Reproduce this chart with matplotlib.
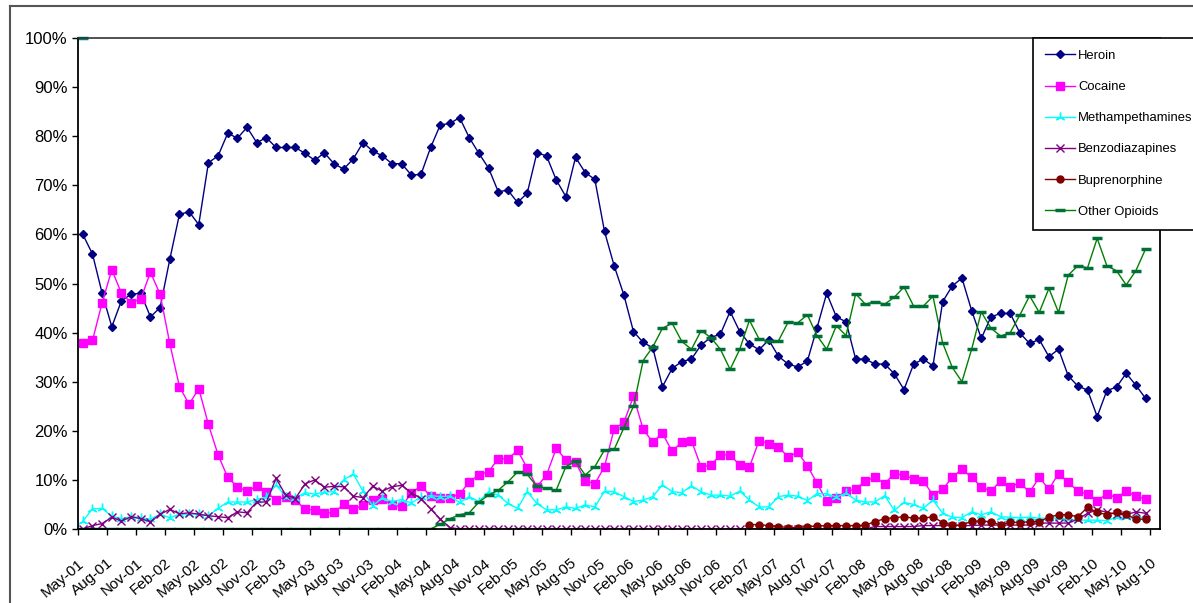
import matplotlib
matplotlib.use("Agg")
import matplotlib.pyplot as plt
import numpy as np
from matplotlib.lines import Line2D

plt.rcParams['font.family'] = ['Liberation Sans', 'DejaVu Sans']

# monthly share (%), May-01 .. Jul-10
heroin = [
    60.0, 56.0, 48.0, 41.2, 46.5, 47.8, 48.0, 43.2, 45.1, 54.9,
    64.1, 64.6, 62.0, 74.6, 76.0, 80.6, 79.6, 81.8, 78.7, 79.7,
    77.7, 77.7, 77.7, 76.5, 75.1, 76.6, 74.4, 73.3, 75.4, 78.7,
    77.0, 76.0, 74.4, 74.4, 72.1, 72.2, 77.7, 82.3, 82.6, 83.8,
    79.7, 76.5, 73.5, 68.7, 69.0, 66.5, 68.4, 76.6, 76.0, 71.1,
    67.7, 75.7, 72.6, 71.2, 60.6, 53.6, 47.7, 40.2, 38.0, 36.9,
    29.0, 32.7, 34.1, 34.6, 37.5, 39.0, 39.7, 44.3, 40.2, 37.7,
    36.5, 38.5, 35.2, 33.6, 33.0, 34.2, 41.0, 48.0, 43.2, 42.2,
    34.6, 34.6, 33.6, 33.6, 31.6, 28.4, 33.6, 34.6, 33.2, 46.3,
    49.5, 51.1, 44.5, 38.8, 43.2, 43.9, 43.9, 39.9, 37.8, 38.6,
    35.1, 36.6, 31.2, 29.1, 28.3, 22.9, 28.2, 28.9, 31.7, 29.3, 26.6,
]
cocaine = [
    37.8, 38.4, 46.1, 52.8, 48.0, 46.1, 46.9, 52.3, 47.8, 37.8,
    29.0, 25.4, 28.6, 21.3, 15.1, 10.5, 8.6, 7.7, 8.7, 7.5,
    5.9, 6.5, 5.9, 4.0, 3.9, 3.2, 3.4, 5.0, 4.0, 4.8,
    5.9, 6.2, 4.8, 4.6, 7.3, 8.8, 6.7, 6.4, 6.4, 7.1,
    9.6, 11.0, 11.7, 14.3, 14.3, 16.0, 12.4, 8.6, 11.0, 16.4,
    14.1, 13.6, 9.8, 9.2, 12.7, 20.4, 21.7, 27.0, 20.3, 17.7,
    19.5, 15.8, 17.7, 18.0, 12.6, 13.0, 15.1, 15.1, 13.0, 12.6,
    18.0, 17.4, 16.7, 14.7, 15.6, 12.9, 9.3, 5.7, 6.4, 7.7,
    8.1, 9.8, 10.5, 9.2, 11.3, 10.9, 10.2, 9.8, 6.9, 8.1,
    10.5, 12.2, 10.5, 8.6, 7.7, 9.8, 8.6, 9.4, 7.5, 10.5,
    8.1, 11.3, 9.5, 7.7, 7.1, 5.8, 7.1, 6.4, 7.7, 6.7, 6.1,
]
methamphetamines = [
    1.6, 4.1, 4.2, 2.6, 2.1, 2.5, 2.3, 2.0, 3.0, 2.3,
    3.0, 3.0, 3.1, 2.7, 4.2, 5.5, 5.5, 5.5, 6.0, 6.5,
    9.0, 6.6, 6.3, 7.4, 7.1, 7.5, 7.6, 10.0, 11.2, 7.7,
    4.7, 6.4, 5.6, 6.0, 5.3, 6.5, 6.8, 6.6, 6.7, 5.4,
    6.6, 5.6, 7.6, 6.9, 5.2, 4.2, 7.6, 5.2, 3.9, 3.9,
    4.5, 4.2, 4.9, 4.5, 7.7, 7.6, 6.6, 5.6, 5.9, 6.6,
    9.0, 7.6, 7.4, 8.8, 7.6, 6.9, 6.9, 6.7, 7.7, 5.9,
    4.5, 4.5, 6.6, 6.9, 6.7, 5.8, 7.2, 7.2, 6.5, 7.3,
    5.9, 5.5, 5.5, 6.8, 3.8, 5.4, 5.0, 4.2, 5.9, 3.2,
    2.4, 2.3, 3.5, 2.9, 3.5, 2.5, 2.4, 2.3, 2.4, 2.2,
    2.2, 2.2, 2.0, 1.8, 1.8, 1.8, 1.7, 2.4, 2.4, 2.2, 2.4,
]
benzodiazepines = [
    0.0, 0.7, 1.1, 2.4, 1.6, 2.5, 2.1, 1.5, 3.0, 4.0,
    3.1, 3.3, 3.0, 2.7, 2.5, 2.3, 3.5, 3.3, 5.5, 5.5,
    10.3, 6.9, 6.2, 9.2, 10.0, 8.5, 8.7, 8.6, 6.7, 6.4,
    8.7, 7.7, 8.6, 8.9, 7.4, 6.2, 4.1, 2.0, 0.3, 0.0,
    0.0, 0.0, 0.0, 0.0, 0.0, 0.0, 0.0, 0.0, 0.0, 0.0,
    0.0, 0.0, 0.0, 0.0, 0.0, 0.0, 0.0, 0.0, 0.0, 0.0,
    0.0, 0.0, 0.0, 0.0, 0.0, 0.0, 0.0, 0.0, 0.0, 0.0,
    0.0, 0.0, 0.0, 0.0, 0.0, 0.0, 0.0, 0.0, 0.0, 0.0,
    0.0, 0.0, 0.5, 0.5, 0.5, 0.5, 0.5, 0.7, 0.7, 0.7,
    0.7, 0.7, 0.7, 0.8, 0.8, 0.8, 0.8, 0.8, 0.8, 1.2,
    1.2, 1.2, 1.2, 2.0, 3.2, 3.9, 3.4, 3.0, 2.9, 3.5, 3.2,
]
# only reported from Feb-07 on
buprenorphine = [
    0.9, 0.9, 0.7, 0.5, 0.3, 0.3, 0.5, 0.6, 0.7, 0.7, 0.7,
    0.7, 0.8, 1.5, 2.1, 2.3, 2.5, 2.2, 2.2, 2.5, 1.3,
    0.8, 0.8, 1.6, 1.6, 1.5, 0.8, 1.4, 1.3, 1.5, 1.5,
    2.4, 2.9, 2.9, 2.5, 4.4, 3.4, 2.9, 3.4, 3.0, 2.0, 2.0,
]
other_opioids = [
    0.0, 0.0, 0.0, 0.0, 0.0, 0.0, 0.0, 0.0, 0.0, 0.0,
    0.0, 0.0, 0.0, 0.0, 0.0, 0.0, 0.0, 0.0, 0.0, 0.0,
    0.0, 0.0, 0.0, 0.0, 0.0, 0.0, 0.0, 0.0, 0.0, 0.0,
    0.0, 0.0, 0.0, 0.0, 0.0, 0.0, 0.0, 1.0, 2.1, 2.9,
    3.3, 5.5, 6.9, 7.9, 9.6, 11.6, 11.1, 8.7, 8.3, 7.9,
    12.7, 13.8, 11.0, 12.7, 16.1, 16.2, 20.6, 25.0, 34.3, 37.1,
    40.9, 41.9, 38.2, 36.6, 40.4, 39.0, 36.6, 32.5, 36.6, 42.5,
    38.7, 38.2, 38.3, 42.1, 42.0, 43.6, 39.4, 36.6, 41.4, 39.4,
    47.9, 45.8, 46.3, 45.8, 47.2, 49.3, 45.4, 45.4, 47.4, 37.9,
    32.9, 30.0, 36.6, 44.2, 40.9, 39.3, 40.0, 43.6, 47.5, 44.1,
    49.0, 44.1, 51.7, 53.6, 53.2, 59.2, 53.6, 52.6, 49.7, 52.6, 57.0,
]
first_month_marker = [100.0]

tick_labels = [
    'May-01', 'Aug-01', 'Nov-01',
    'Feb-02', 'May-02', 'Aug-02', 'Nov-02',
    'Feb-03', 'May-03', 'Aug-03', 'Nov-03',
    'Feb-04', 'May-04', 'Aug-04', 'Nov-04',
    'Feb-05', 'May-05', 'Aug-05', 'Nov-05',
    'Feb-06', 'May-06', 'Aug-06', 'Nov-06',
    'Feb-07', 'May-07', 'Aug-07', 'Nov-07',
    'Feb-08', 'May-08', 'Aug-08', 'Nov-08',
    'Feb-09', 'May-09', 'Aug-09', 'Nov-09',
    'Feb-10', 'May-10', 'Aug-10',
]

W, H = 1193, 603
fig = plt.figure(figsize=(W / 100, H / 100), dpi=100)
ax = fig.add_axes([78 / W, 74 / H, 1082 / W, 491 / H])

# categories sit between tick marks (Excel style)
x = np.arange(len(heroin)) + 0.5
bup_x = x[-len(buprenorphine):]

ax.plot(x, heroin, color='#000080', lw=1, marker='D', ms=4.4, label='Heroin')
ax.plot(x, cocaine, color='#FF00FF', lw=1, marker='s', ms=6, label='Cocaine')
ax.plot(x, methamphetamines, color='#00FFFF', lw=1, marker=(3, 2, 0),
        ms=7, mew=1, label='Methampethamines')
ax.plot(x, benzodiazepines, color='#800080', lw=1, marker='x', ms=5.5,
        mew=1, label='Benzodiazapines')
ax.plot(bup_x, buprenorphine, color='#800000', lw=1, marker='o', ms=5,
        label='Buprenorphine')
ax.plot(x, other_opioids, color='#008000', lw=1, marker='_', ms=7, mew=2.5,
        mec='#007038', label='Other Opioids')
ax.plot(x[:1], first_month_marker, ls='none', marker='_', ms=7, mew=2.5,
        color='#008080', clip_on=False)

ax.set_xlim(0, len(heroin) + 1)
ax.set_ylim(0, 100)
ax.set_xticks(np.arange(0, len(heroin) + 1, 3))
ax.set_xticklabels(tick_labels, rotation=40, ha='right', va='top',
                   rotation_mode='anchor', fontsize=11)
ax.set_yticks(np.arange(0, 101, 10))
ax.set_yticklabels(['{:d}%'.format(v) for v in range(0, 101, 10)], fontsize=12)
ax.tick_params(axis='x', direction='out', length=4.5, width=1, pad=15)
ax.tick_params(axis='y', direction='out', length=4.3, width=1, pad=3)

for side in ['left', 'bottom', 'right']:
    ax.spines[side].set_color('black')
    ax.spines[side].set_linewidth(1.3)
ax.spines['top'].set_color('#333333')
ax.spines['top'].set_linewidth(1.2)

leg = ax.legend(loc='upper left', bbox_to_anchor=(1033 / W, 1 - 38 / H),
                bbox_transform=fig.transFigure, borderaxespad=0,
                fancybox=False, framealpha=1, edgecolor='black', fontsize=9.4,
                handlelength=2.35, handletextpad=0.2, labelspacing=1.46,
                borderpad=0.9)
leg.get_frame().set_linewidth(1.2)

# outer chart border (cropped on the right and bottom)
fig.add_artist(Line2D([9.5 / W, 9.5 / W], [0, 1 - 5.5 / H],
                      transform=fig.transFigure, color='#555555', lw=1.5))
fig.add_artist(Line2D([9.5 / W, 1], [1 - 5.5 / H, 1 - 5.5 / H],
                      transform=fig.transFigure, color='#555555', lw=1.5))

fig.savefig('out.png', dpi=100)
